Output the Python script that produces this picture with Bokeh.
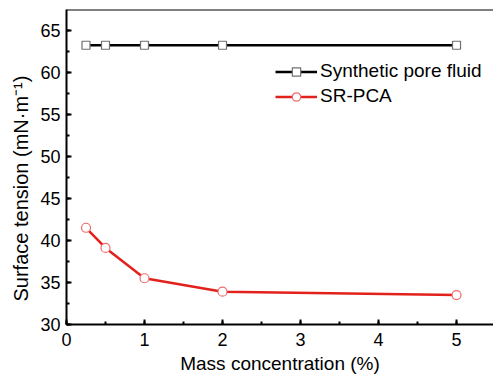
from bokeh.plotting import figure
from bokeh.models import (Range1d, SingleIntervalTicker, Legend, LegendItem, Span, Title)
from bokeh.embed import file_html
from bokeh.resources import INLINE

# Data
mass_conc = [0.25, 0.5, 1, 2, 5]
pore_fluid = [63.2, 63.2, 63.2, 63.2, 63.2]
sr_pca = [41.5, 39.1, 35.5, 33.9, 33.5]
series_names = ["Synthetic pore fluid", "SR-PCA"]
x_label = "Mass concentration (%)"
y_label = "Surface tension (mN\u00b7m\u207b\u00b9)"

FONT = "Liberation Sans"

p = figure(width=493, height=376, output_backend="svg", toolbar_location=None,
           x_range=Range1d(0, 5.474), y_range=Range1d(30, 67.45),
           min_border_left=66, min_border_right=0, min_border_top=9, min_border_bottom=51)
p.grid.visible = False
p.outline_line_color = None
p.background_fill_color = "white"

for ax in (p.xaxis[0], p.yaxis[0]):
    ax.axis_line_width = 2
    ax.axis_line_color = "black"
    ax.major_tick_in = 5
    ax.major_tick_out = 0
    ax.minor_tick_in = 3
    ax.minor_tick_out = 0
    ax.major_tick_line_width = 2
    ax.minor_tick_line_width = 2
    ax.major_label_text_font = FONT
    ax.major_label_text_font_size = "18px"
    ax.major_label_text_color = "black"
    ax.axis_label_text_font = FONT
    ax.axis_label_text_font_style = "normal"
    ax.axis_label_text_color = "black"

p.xaxis.axis_label_text_font_size = "19px"
p.xaxis.ticker = SingleIntervalTicker(interval=1, num_minor_ticks=2)
p.yaxis.ticker = SingleIntervalTicker(interval=5, num_minor_ticks=2)
p.xaxis.axis_label = x_label
p.xaxis.major_label_standoff = 8
p.yaxis.major_label_standoff = 6
p.xaxis.axis_label_standoff = 4

# y-axis title as a side title so it can be offset along the axis
ytitle = Title(text=y_label, align="left", offset=23, standoff=11,
               text_font=FONT, text_font_size="20px", text_font_style="normal",
               text_color="black")
p.add_layout(ytitle, "left")

top = Span(location=p.y_range.end, dimension="width", line_color="black", line_width=2)
p.add_layout(top)

l1 = p.line(mass_conc, pore_fluid, line_color="black", line_width=2.5)
s1 = p.scatter(mass_conc, pore_fluid, marker="square", size=8, line_color="#707070",
               fill_color="white", line_width=1.2)
l2 = p.line(mass_conc, sr_pca, line_color="#e3211c", line_width=2.5)
s2 = p.scatter(mass_conc, sr_pca, marker="circle", size=9, line_color="#f06a6a",
               fill_color="white", line_width=1.2)

legend = Legend(items=[LegendItem(label=series_names[0], renderers=[l1, s1]),
                       LegendItem(label=series_names[1], renderers=[l2, s2])],
                location=(209, 217), orientation="vertical",
                border_line_color=None, background_fill_alpha=0,
                padding=0, margin=0, spacing=3, glyph_width=42, glyph_height=21,
                label_height=21, label_standoff=3,
                label_text_font=FONT, label_text_font_size="19px",
                label_text_color="black")
p.add_layout(legend, "center")

open("out.html", "w").write(file_html(p, INLINE))
